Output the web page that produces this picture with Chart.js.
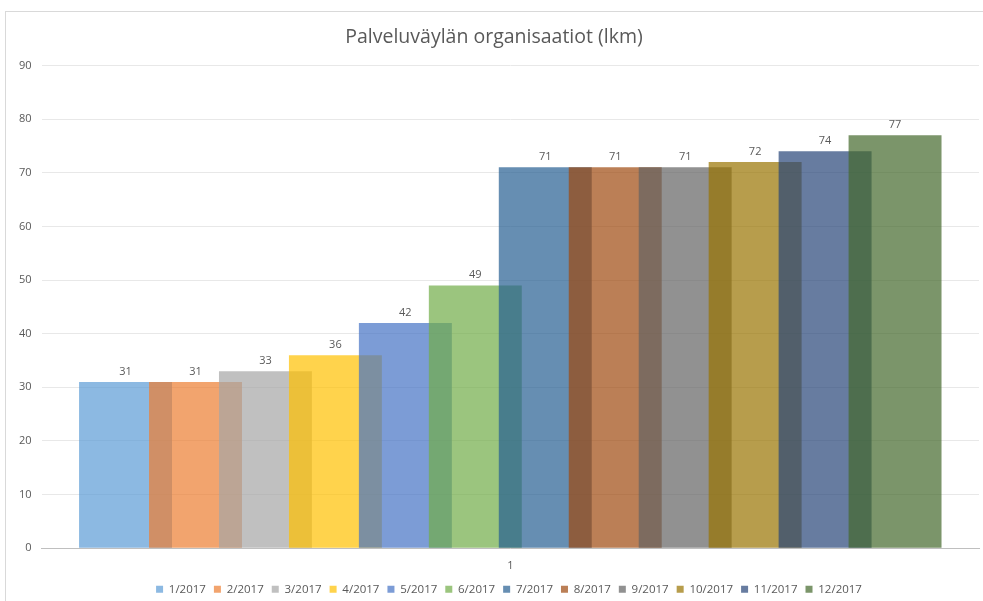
<!DOCTYPE html>
<html>
<head>
<meta charset="utf-8">
<script src="https://cdn.jsdelivr.net/npm/chart.js@4"></script>
<style>
  html, body { margin: 0; padding: 0; background: #fff; overflow: hidden; }
  #wrap {
    position: absolute; left: 5px; top: 11px;
    width: 978px; height: 593px;
    border-left: 1px solid #d9d9d9; border-top: 1px solid #d9d9d9;
  }
</style>
</head>
<body>
<div id="wrap"><canvas id="chart"></canvas></div>
<script>
// kategoriat ja sarjat
const categories = ['1'];
const seriesNames = ['1/2017', '2/2017', '3/2017', '4/2017', '5/2017', '6/2017',
                     '7/2017', '8/2017', '9/2017', '10/2017', '11/2017', '12/2017'];
const seriesValues = [31, 31, 33, 36, 42, 49, 71, 71, 71, 72, 74, 77];
const yTicks = [0, 10, 20, 30, 40, 50, 60, 70, 80, 90];

const baseColors = ['91,155,213', '237,125,49', '165,165,165', '255,192,0', '68,114,196', '112,173,71',
                    '37,94,145', '158,72,14', '99,99,99', '153,115,0', '38,68,120', '67,104,43'];

// arvojen tekstit palkkien yläpuolelle
const valueLabels = {
    id: 'valueLabels',
    afterDatasetsDraw(chart) {
        const ctx = chart.ctx;
        ctx.save();
        ctx.font = '11px "Open Sans"';
        ctx.fillStyle = '#595959';
        ctx.textAlign = 'center';
        ctx.textBaseline = 'bottom';
        chart.data.datasets.forEach((ds, i) => {
            const meta = chart.getDatasetMeta(i);
            meta.data.forEach((el, j) => {
                ctx.fillText(ds.data[j].y, el.x, el.y - 5);
            });
        });
        ctx.restore();
    }
};

// selite hieman oikealle kuten Excelissä
const legendShift = {
    id: 'legendShift',
    afterLayout(chart) {
        chart.legend.left += 15;
        chart.legend.right += 15;
    }
};

const datasets = seriesNames.map((name, i) => ({
    label: name,
    data: [{ x: i + 1, y: seriesValues[i] }],
    backgroundColor: 'rgba(' + baseColors[i] + ',0.7)',
    borderWidth: 0,
    grouped: false,
    categoryPercentage: 1,
    barPercentage: 93 / 70,
    order: seriesNames.length - i
}));

new Chart(document.getElementById('chart'), {
    type: 'bar',
    data: { datasets },
    options: {
        responsive: true,
        maintainAspectRatio: false,
        animation: false,
        layout: { padding: { left: 3, right: 5, top: 12, bottom: 0 } },
        plugins: {
            title: {
                display: true,
                text: 'Palveluväylän organisaatiot (lkm)',
                color: '#595959',
                font: { family: '"Open Sans"', size: 19.5, weight: 'normal' },
                padding: { top: 2, bottom: 16 }
            },
            legend: {
                position: 'bottom',
                labels: {
                    boxWidth: 7, boxHeight: 7,
                    color: '#595959',
                    font: { family: '"Open Sans"', size: 11.5 },
                    padding: 8,
                    sort: (a, b) => a.datasetIndex - b.datasetIndex
                }
            },
            tooltip: { enabled: false }
        },
        scales: {
            x: {
                type: 'linear',
                offset: false,
                min: -0.2,
                max: 13.2,
                grid: { display: false },
                border: { color: '#bfbfbf', width: 1 },
                afterBuildTicks(axis) {
                    axis.ticks = [{ value: (seriesNames.length + 1) / 2 }];
                },
                ticks: {
                    color: '#595959',
                    font: { family: '"Open Sans"', size: 11 },
                    callback: () => categories[0],
                    padding: 3
                }
            },
            y: {
                min: yTicks[0],
                max: yTicks[yTicks.length - 1],
                grid: { color: '#e8e8e8', drawTicks: false },
                border: { display: false },
                afterBuildTicks(axis) {
                    axis.ticks = yTicks.map(v => ({ value: v }));
                },
                ticks: {
                    color: '#595959',
                    font: { family: '"Open Sans"', size: 11 },
                    padding: 10
                }
            }
        }
    },
    plugins: [valueLabels, legendShift]
});
</script>
</body>
</html>
